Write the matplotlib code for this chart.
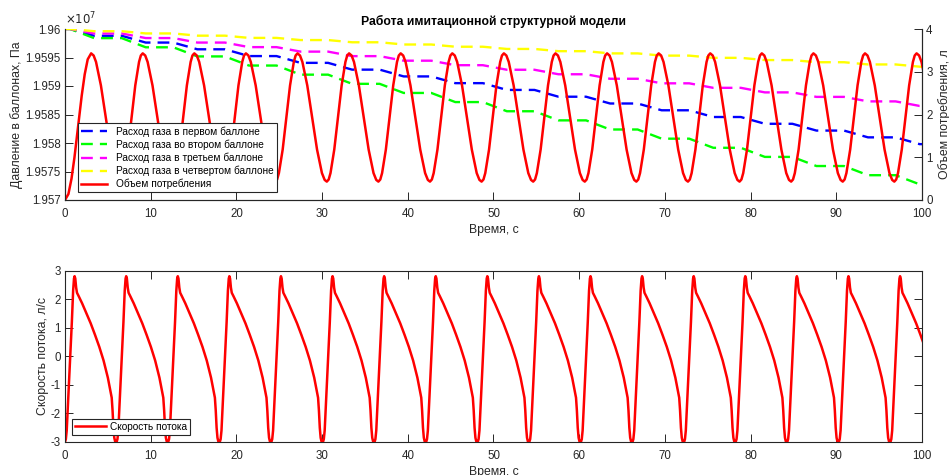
import numpy as np
import matplotlib
matplotlib.use('Agg')
import matplotlib.pyplot as plt
from matplotlib.ticker import FuncFormatter, MultipleLocator

plt.rcParams['font.family'] = ['Liberation Sans', 'DejaVu Sans']
plt.rcParams['axes.unicode_minus'] = False
grey = (0.15, 0.15, 0.15)

# start of every 6 s cycle (flow minimum), s
cycle_start = [0.0, 6.02, 12.04, 18.06, 24.08, 30.10, 36.12, 42.14, 48.16,
               54.18, 60.20, 66.22, 72.24, 78.26, 84.28, 90.30, 96.32]

# consumed volume, l: first rise from zero, then one period starting at the peak
vol_first_t = [0.0, 0.40, 0.76, 1.10, 1.525, 1.95, 2.30, 2.65]
vol_first_v = [0.0, 0.14, 0.50, 0.99, 1.72, 2.44, 2.94, 3.29]
vol_tau = [3.05, 3.34, 3.62, 4.19, 4.76, 5.33, 5.90, 6.22, 6.47,
           6.69, 6.90, 7.34, 7.77, 8.20, 8.64, 8.85]
vol_val = [3.43, 3.38, 3.23, 2.68, 1.93, 1.18, 0.63, 0.47, 0.43,
           0.48, 0.63, 1.18, 1.93, 2.68, 3.23, 3.38]

# flow rate, l/s over one cycle
flow_tau = [0.0, 0.1, 0.2, 0.4, 0.6, 0.8, 0.95, 1.05, 1.12, 1.2, 1.3, 1.4, 1.6,
            2.0, 2.5, 3.0, 3.5, 4.0, 4.5, 5.0, 5.45, 5.55, 5.65, 5.75, 5.85, 5.95]
flow_val = [-3.0, -2.9, -2.6, -1.35, -0.15, 1.2, 2.3, 2.72, 2.8, 2.72, 2.4, 2.22, 2.1,
            1.85, 1.5, 1.15, 0.75, 0.33, -0.15, -0.75, -1.45, -1.9, -2.5, -2.85, -2.98, -3.0]

# cylinder pressure after each cycle, Pa
p_first = [19600000, 19598810, 19597620, 19596440, 19595250, 19594060, 19592870,
           19591680, 19590500, 19589310, 19588120, 19586930, 19585740, 19584560,
           19583370, 19582180, 19580990, 19579800]
p_second = [19600000, 19598400, 19596790, 19595190, 19593590, 19591990, 19590380,
            19588780, 19587180, 19585570, 19583970, 19582370, 19580760, 19579160,
            19577560, 19575960, 19574350, 19572750]
p_third = [19600000, 19599210, 19598410, 19597620, 19596820, 19596030, 19595240,
           19594440, 19593650, 19592850, 19592060, 19591270, 19590470, 19589680,
           19588880, 19588090, 19587300, 19586500]
p_fourth = [19600000, 19599610, 19599220, 19598830, 19598440, 19598060, 19597670,
            19597280, 19596890, 19596500, 19596110, 19595720, 19595330, 19594940,
            19594550, 19594170, 19593780, 19593390]
drop_tau = [0.6, 3.4]   # part of the cycle where gas is drawn

labels = ['Расход газа в первом баллоне', 'Расход газа во втором баллоне',
          'Расход газа в третьем баллоне', 'Расход газа в четвертом баллоне']
colors = ['#0000ff', '#00ff00', '#ff00ff', '#ffff00']

# build series
t_vol = list(vol_first_t)
v_vol = list(vol_first_v)
t_flow, v_flow = [], []
for c in cycle_start:
    t_vol += [c + x for x in vol_tau]
    v_vol += vol_val
    t_flow += [c + x for x in flow_tau]
    v_flow += flow_val

def steps(levels):
    t, p = [0.0], [levels[0]]
    for k, c in enumerate(cycle_start):
        t += [c + drop_tau[0], c + drop_tau[1]]
        p += [levels[k], levels[k + 1]]
    t.append(110.0)
    p.append(levels[-1])
    return t, p

fig = plt.figure(figsize=(9.49, 4.75), dpi=100)
ax1 = fig.add_axes([65/949, 1-200/475, 857/949, 171/475])
ax2 = ax1.twinx()
ax3 = fig.add_axes([65/949, 1-442/475, 857/949, 171.5/475])

handles = []
for lev, lab, col in zip([p_first, p_second, p_third, p_fourth], labels, colors):
    tt, pp = steps(lev)
    h, = ax1.plot(tt, pp, color=col, lw=1.7, dashes=(5.0, 3.0), label=lab)
    handles.append(h)
h, = ax2.plot(t_vol, v_vol, color='#ff0000', lw=1.8, label='Объем потребления')
handles.append(h)

ax1.set_xlim(0, 100)
ax1.set_ylim(1.957e7, 1.96e7)
ax1.yaxis.set_major_locator(MultipleLocator(5000))
ax1.yaxis.set_major_formatter(FuncFormatter(lambda v, p: '%g' % round(v / 1e7, 5)))
ax1.text(0, 1.01, r'$\times10^{7}$', transform=ax1.transAxes, fontsize=8.5,
         color=grey, ha='left', va='bottom')
ax2.set_ylim(0, 4)
ax2.yaxis.set_major_locator(MultipleLocator(1))

ax3.plot(t_flow, v_flow, color='#ff0000', lw=1.8, label='Скорость потока')
ax3.set_xlim(0, 100)
ax3.set_ylim(-3, 3)
ax3.yaxis.set_major_locator(MultipleLocator(1))

for a in (ax1, ax3):
    a.xaxis.set_major_locator(MultipleLocator(10))
for a in (ax1, ax2, ax3):
    a.tick_params(direction='in', length=6, width=0.7, labelsize=8.3, colors=grey,
                  labelcolor=grey, pad=3)
    for s in a.spines.values():
        s.set_color(grey)
        s.set_linewidth(0.8)
for a in (ax1, ax3):
    a.tick_params(axis='x', pad=5.5)
ax1.spines['top'].set_visible(False)
ax2.spines['top'].set_visible(False)
ax3.tick_params(top=True, right=True)

ax1.set_title('Работа имитационной структурной модели', fontsize=8.8,
              fontweight='bold', pad=3)
ax1.set_xlabel('Время, с', fontsize=8.8, color=grey, labelpad=3)
ax1.set_ylabel('Давление в баллонах, Па', fontsize=8.8, color=grey, labelpad=2)
ax2.set_ylabel('Объем потребления, л', fontsize=8.8, color=grey, labelpad=4)
ax3.set_xlabel('Время, с', fontsize=8.8, color=grey, labelpad=3)
ax3.set_ylabel('Скорость потока, л/с', fontsize=8.8, color=grey, labelpad=1)

leg = ax2.legend(handles=handles, loc='lower left', bbox_to_anchor=(0.0148, 0.045),
                 borderaxespad=0, fontsize=7.3, handlelength=2.6, handletextpad=0.9,
                 labelspacing=0.26, fancybox=False, framealpha=1, borderpad=0.3)
leg.get_frame().set_edgecolor(grey)
leg.get_frame().set_linewidth(0.8)
leg2 = ax3.legend(loc='lower left', bbox_to_anchor=(0.0078, 0.041), borderaxespad=0,
                  fontsize=7.3, handlelength=3.1, handletextpad=0.4,
                  fancybox=False, framealpha=1, borderpad=0.3)
leg2.get_frame().set_edgecolor(grey)
leg2.get_frame().set_linewidth(0.8)

fig.savefig('out.png', dpi=100)
